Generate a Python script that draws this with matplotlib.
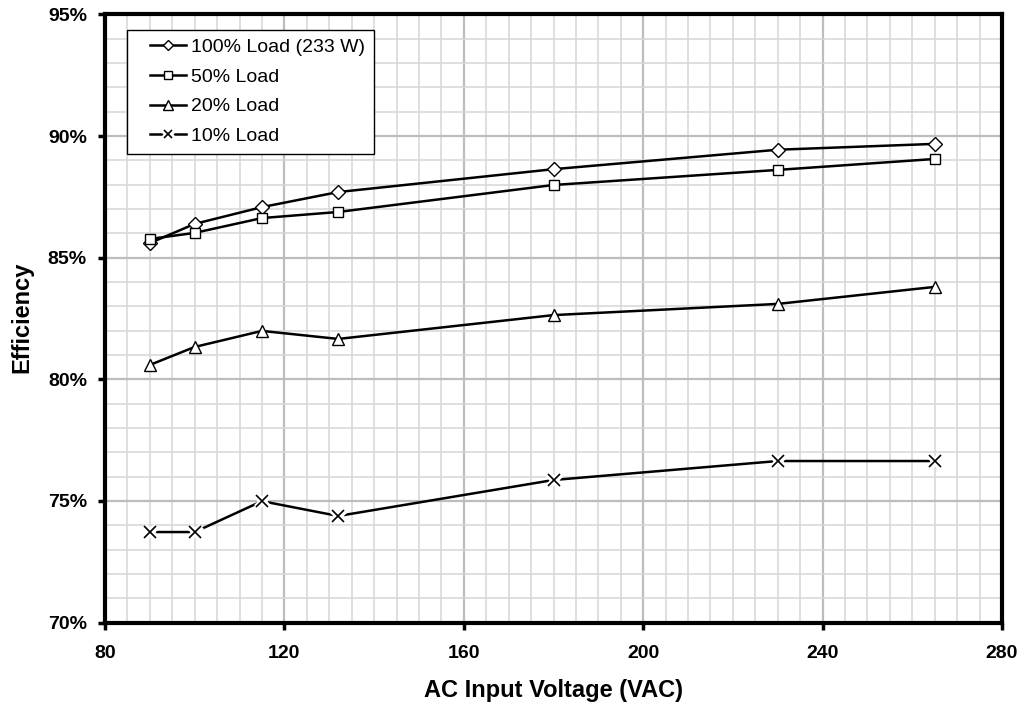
import matplotlib.pyplot as plt
from matplotlib.ticker import MultipleLocator, FuncFormatter
from matplotlib.legend_handler import HandlerLine2D, HandlerTuple
from matplotlib.lines import Line2D

plt.rcParams['font.family'] = ['Liberation Sans', 'DejaVu Sans']

volts = [90, 100, 115, 132, 180, 230, 265]
eff_100 = [85.6, 86.39, 87.08, 87.7, 88.64, 89.44, 89.68]
eff_50 = [85.77, 86.02, 86.63, 86.88, 87.99, 88.61, 89.06]
eff_20 = [80.59, 81.33, 81.99, 81.66, 82.64, 83.1, 83.8]
eff_10 = [73.72, 73.72, 74.99, 74.38, 75.86, 76.64, 76.64]
labels = ['100% Load (233 W)', '50% Load', '20% Load', '10% Load']


class ShiftedHandler(HandlerLine2D):
    # leaves some blank room on the left of the legend handle
    def create_artists(self, legend, orig_handle, xdescent, ydescent,
                       width, height, fontsize, trans):
        shift = 0.28 * width
        return super().create_artists(legend, orig_handle, xdescent - shift,
                                      ydescent, width - shift, height,
                                      fontsize, trans)


fig = plt.figure(figsize=(10.25, 7.07), dpi=100)
ax = fig.add_axes([0.1024, 0.1195, 0.8752, 0.860])

mk = dict(color='black', linewidth=1.8, markerfacecolor='white',
          markeredgecolor='black', markeredgewidth=1.0, zorder=3)
h1, = ax.plot(volts, eff_100, marker='D', markersize=7, **mk)
h2, = ax.plot(volts, eff_50, marker='s', markersize=7, **mk)
h3, = ax.plot(volts, eff_20, marker='^', markersize=8.5, **mk)
h4a, = ax.plot(volts, eff_10, color='black', linewidth=1.8, zorder=3)
h4b, = ax.plot(volts, eff_10, linestyle='none', marker='x', markersize=8,
               markeredgewidth=5, markeredgecolor='white', zorder=4)
h4c, = ax.plot(volts, eff_10, linestyle='none', marker='x', markersize=8,
               markeredgewidth=1.2, markeredgecolor='black', zorder=5)

ax.set_xlim(80, 280)
ax.set_ylim(70, 95)
ax.xaxis.set_major_locator(MultipleLocator(40))
ax.xaxis.set_minor_locator(MultipleLocator(5))
ax.yaxis.set_major_locator(MultipleLocator(5))
ax.yaxis.set_minor_locator(MultipleLocator(1))
ax.yaxis.set_major_formatter(FuncFormatter(lambda v, p: '%d%%' % v))

ax.grid(which='major', color='#bdbdbd', linewidth=1.6, zorder=0)
ax.grid(which='minor', color='#d6d6d6', linewidth=1.1, zorder=0)
ax.set_axisbelow(True)

for s in ax.spines.values():
    s.set_linewidth(3)
ax.tick_params(which='major', direction='out', length=5, width=2.5,
               labelsize=14)
ax.tick_params(axis='x', which='major', pad=11)
ax.tick_params(axis='y', which='major', pad=8)
ax.tick_params(which='minor', length=0)
for lab in ax.get_xticklabels() + ax.get_yticklabels():
    lab.set_fontweight('bold')

ax.set_xlabel('AC Input Voltage (VAC)', fontsize=17, fontweight='bold')
ax.set_ylabel('Efficiency', fontsize=17, fontweight='bold')
ax.xaxis.set_label_coords(0.5, -0.111)
ax.xaxis.label.set_va('center')
ax.yaxis.set_label_coords(-0.0925, 0.502)
ax.yaxis.label.set_va('center')

leg = ax.legend([h1, h2, h3, (h4a, h4b, h4c)], labels,
                handler_map={Line2D: ShiftedHandler(),
                             tuple: HandlerTuple(ndivide=1, pad=0)},
                loc='upper left', bbox_to_anchor=(0.0245, 0.975), borderaxespad=0,
                fontsize=14, handlelength=2.6, handletextpad=0.25,
                borderpad=0.45, labelspacing=0.62, markerscale=0.8,
                fancybox=False, framealpha=1, edgecolor='black')
leg.get_frame().set_linewidth(1.0)
leg.set_zorder(6)

plt.savefig('out.png', dpi=100)
